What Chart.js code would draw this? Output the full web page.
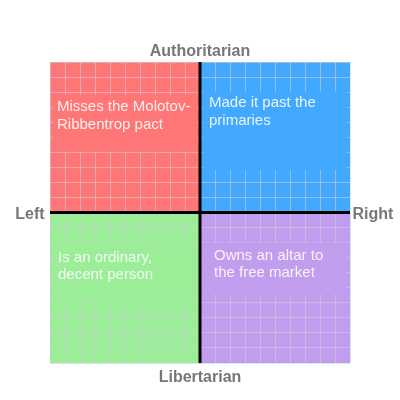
<!DOCTYPE html>
<html>
<head>
<meta charset="utf-8">
<script src="https://cdn.jsdelivr.net/npm/chart.js@4/dist/chart.umd.min.js"></script>
<style>
  html, body { margin: 0; padding: 0; background: #fff; }
  #wrap { width: 400px; height: 400px; }
</style>
</head>
<body>
<div id="wrap"><canvas id="compass"></canvas></div>
<script>
// axis names
var axisNames = { top: 'Authoritarian', bottom: 'Libertarian', left: 'Left', right: 'Right' };

// economic (x) and social (y) range, one grid line per unit
var axisRange = [-10, 10];

// quadrants: top-left, top-right, bottom-left, bottom-right
var quadrantX = [[-10, 0], [0, 10], [-10, 0], [0, 10]];
var quadrantY = [10, 10, -10, -10];
var quadrantColors = ['#ff7676', '#42a9fe', '#9bed98', '#c19ded'];
var quadrantLabels = [
    ['Misses the Molotov-', 'Ribbentrop pact'],
    ['Made it past the', 'primaries'],
    ['Is an ordinary,', 'decent person'],
    ['Owns an altar to', 'the free market']
];

// text box placement inside each quadrant (pixels from quadrant corner)
var labelBoxes = [
    { top: 33, height: 57, textX: 7, textY: 45 },
    { top: 30, height: 78, textX: 9, textY: 41 },
    { top: 30, height: 60, textX: 8, textY: 45 },
    { top: 30, height: 52, textX: 14, textY: 43 }
];

var gridColor = 'rgba(205,205,220,0.6)';

var datasets = quadrantX.map(function(xs, i){
    return {
        data: xs.map(function(x){ return { x: x, y: quadrantY[i] }; }),
        backgroundColor: quadrantColors[i],
        borderWidth: 0,
        pointRadius: 0,
        fill: 'origin'
    };
});

var compassPlugin = {
    id: 'compass',
    afterDraw: function(chart){
        var ctx = chart.ctx;
        var xs = chart.scales.x, ys = chart.scales.y;
        var cx = xs.getPixelForValue(0), cy = ys.getPixelForValue(0);
        var area = chart.chartArea;

        ctx.save();
        // label boxes and texts
        quadrantLabels.forEach(function(lines, i){
            var x0 = xs.getPixelForValue(quadrantX[i][0]);
            var x1 = xs.getPixelForValue(quadrantX[i][1]);
            var qTop = quadrantY[i] < 0 ? cy : ys.getPixelForValue(quadrantY[i]);
            var b = labelBoxes[i];
            var left = Math.min(x0, x1), right = Math.max(x0, x1);
            ctx.fillStyle = quadrantColors[i];
            ctx.fillRect(left + 3, qTop + b.top, right - left - 6, b.height);

            ctx.fillStyle = 'rgba(255,255,255,0.88)';
            ctx.font = '15px "Liberation Sans", Arial, sans-serif';
            ctx.textAlign = 'left';
            ctx.textBaseline = 'middle';
            lines.forEach(function(t, k){
                ctx.fillText(t, left + b.textX, qTop + b.textY + k * 17.5);
            });
        });

        // the two main axes
        ctx.strokeStyle = '#000';
        ctx.lineWidth = 3;
        ctx.beginPath();
        ctx.moveTo(cx, area.top);
        ctx.lineTo(cx, area.bottom);
        ctx.moveTo(area.left, cy);
        ctx.lineTo(area.right, cy);
        ctx.stroke();

        // axis names
        ctx.fillStyle = '#777';
        ctx.font = 'bold 16px "Liberation Sans", Arial, sans-serif';
        ctx.textBaseline = 'middle';
        ctx.textAlign = 'center';
        ctx.fillText(axisNames.top, cx, area.top - 10);
        ctx.fillText(axisNames.bottom, cx, area.bottom + 15);
        ctx.fillText(axisNames.left, area.left - 20, cy + 2);
        ctx.fillText(axisNames.right, area.right + 23, cy + 2);
        ctx.restore();
    }
};

var gridOpts = {
    z: 1,
    drawTicks: false,
    color: function(c){ return c.tick && c.tick.value === 0 ? 'rgba(0,0,0,0)' : gridColor; },
    lineWidth: 1
};

new Chart(document.getElementById('compass'), {
    type: 'line',
    data: { datasets: datasets },
    options: {
        responsive: true,
        maintainAspectRatio: false,
        animation: false,
        layout: { padding: { left: 50, right: 50, top: 62, bottom: 37 } },
        plugins: {
            legend: { display: false },
            tooltip: { enabled: false }
        },
        scales: {
            x: {
                type: 'linear',
                min: axisRange[0], max: axisRange[1],
                ticks: { display: false, stepSize: 1 },
                grid: gridOpts,
                border: { display: false }
            },
            y: {
                type: 'linear',
                min: axisRange[0], max: axisRange[1],
                ticks: { display: false, stepSize: 1 },
                grid: gridOpts,
                border: { display: false }
            }
        }
    },
    plugins: [compassPlugin]
});
</script>
</body>
</html>
